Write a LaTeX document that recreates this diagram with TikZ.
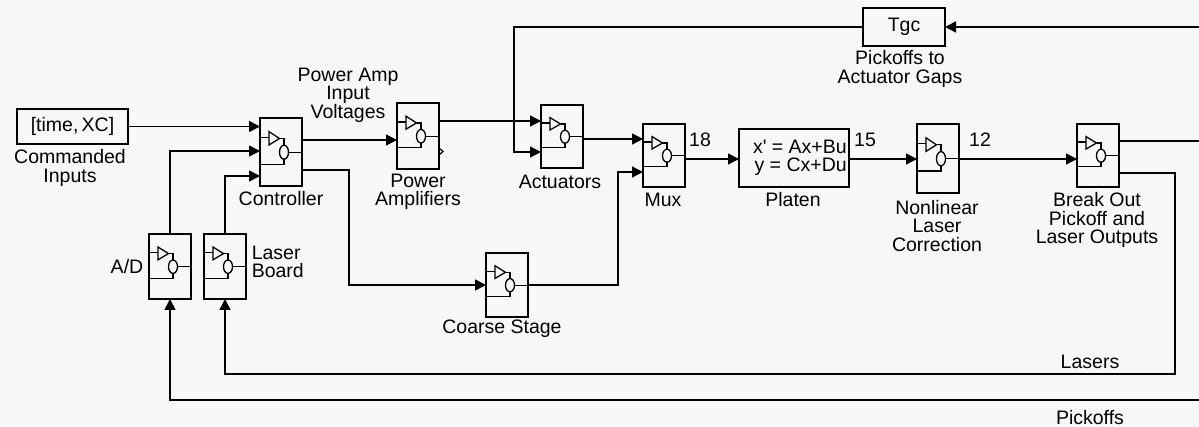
\documentclass[tikz,border=0pt]{standalone}
\usepackage{fontspec}
\setmainfont{Liberation Sans}
\usetikzlibrary{arrows.meta,calc}
\definecolor{bg}{HTML}{F7F7F7}
\newcommand\subicon[2]{%
  \begin{scope}[shift={(#1.north west)}, yscale=#2/63, line width=1.3pt]
    \draw (0.8,18) -- (9,18);
    \draw (9,12.6) -- (9,25) -- (19.5,19) -- cycle;
    \draw (19.5,19) -- (24,19) -- (24,25.2);
    \draw (24,31.7) ellipse [x radius=4.5, y radius=6.5];
    \draw (28.5,31.7) -- (42,31.7);
    \draw (24,38.2) -- (24,42.8) -- (0.8,42.8);
  \end{scope}}
\begin{document}
\begin{tikzpicture}[x=1pt,y=-1pt, line width=1.6pt,
  >={Triangle[length=11pt,width=11pt]},
  lbl/.style={font=\fontsize{19.5}{18.5}\selectfont, align=center, inner sep=0pt},
  blk/.style={draw, rectangle, inner sep=0pt, outer sep=0pt, anchor=north west},
  subsys/.style={blk, minimum width=42pt, minimum height=#1}]
\fill[bg] (0,0) rectangle (1199,427);
\useasboundingbox (0,0) rectangle (1199,427);

% blocks
\node[blk, lbl, minimum width=111pt, minimum height=35pt] (cmd) at (17,109) {[time,\,XC]};
\node[subsys=68pt] (ctrl) at (260,118) {};
\node[subsys=65pt] (ad) at (149,234) {};
\node[subsys=65pt] (lb) at (204,234) {};
\node[subsys=66pt] (pa) at (397,103) {};
\node[subsys=63pt] (act) at (541,105) {};
\node[subsys=63pt] (mux) at (643,124) {};
\node[subsys=64pt] (cs) at (486,253) {};
\node[blk, minimum width=110pt, minimum height=58pt] (plat) at (739,129) {};
\node[lbl, anchor=east, align=right] (plattxt) at ([xshift=-1.5pt]plat.east) {x\textquotesingle\ = Ax+Bu\\y = Cx+Du};
\node[subsys=69pt] (nl) at (917,124) {};
\node[subsys=63pt] (bo) at (1077,124) {};
\node[blk, lbl, minimum width=82pt, minimum height=38pt] (tgc) at (863,8) {Tgc};

\subicon{ctrl}{68}
\subicon{ad}{65}
\subicon{lb}{65}
\subicon{pa}{66}
\subicon{act}{63}
\subicon{mux}{63}
\subicon{cs}{64}
\subicon{nl}{69}
\subicon{bo}{63}

% labels
\node[lbl] (lcmd) at (70,168) {Commanded\\Inputs};
\node[lbl] (lctrl) at (281,199) {Controller};
\node[lbl] (lad) at (127,267) {A/D};
\node[lbl, anchor=west, align=left] (llb) at (251,262) {Laser\\Board};
\node[lbl] (lpav) at (348,95) {Power Amp\\Input\\Voltages};
\node[lbl] (lpa) at (418,192) {Power\\Amplifiers};
\node[lbl] (lact) at (560,182) {Actuators};
\node[lbl] (lmux) at (663,200) {Mux};
\node[lbl] (lcs) at (502,329) {Coarse Stage};
\node[lbl] (lplat) at (793,200) {Platen};
\node[lbl] (lnl) at (937,226) {Nonlinear\\Laser\\Correction};
\node[lbl] (lbo) at (1097,220) {Break Out\\Pickoff and\\Laser Outputs};
\node[lbl] (ltgc) at (900,69) {Pickoffs to\\Actuator Gaps};
\node[lbl] (llas) at (1090,362) {Lasers};
\node[lbl] (lpick) at (1090,418) {Pickoffs};
\node[lbl] (n18) at (700,140) {18};
\node[lbl] (n15) at (865,140) {15};
\node[lbl] (n12) at (980,140) {12};

% edge coordinates
\coordinate (eT) at (1199,27);
\coordinate (eM) at (1199,141);
\coordinate (eB) at (1199,400);

% connectors
\draw[->] (cmd.east) -- (ctrl.west |- cmd.east);
\draw[->] (ad.north) |- (ctrl.west |- 0,151);
\draw[->] (lb.north) |- (ctrl.west |- 0,176);
\draw[->] (ctrl.east |- 0,140) -- (pa.west |- 0,140);
\draw[->] (ctrl.east |- 0,170) -- (349,170) |- (cs.west);
\draw[->] (pa.east |- 0,121) -- (act.west |- 0,121);
\draw[line width=1.2pt] (pa.east |- 0,148) -- ++(4,3.5) -- ++(-4,3.5);
\draw[->] (tgc.west) -| (514,152) -- (act.west |- 0,152);
\draw[->] (act.east |- 0,139) -- (mux.west |- 0,139);
\draw[->] (cs.east) -| (618,172) -- (mux.west |- 0,172);
\draw[->] (mux.east |- 0,159) -- (plat.west |- 0,159);
\draw[->] (plat.east |- 0,159) -- (nl.west |- 0,159);
\draw[->] (nl.east |- 0,159) -- (bo.west |- 0,159);
\draw (bo.east |- eM) -- (eM);
\draw[->] (eT) -- (tgc.east);
\draw[->] (bo.east |- 0,173) -| (1175,374) -| (lb.south);
\draw[->] (eB) -| (ad.south);
\end{tikzpicture}
\end{document}
